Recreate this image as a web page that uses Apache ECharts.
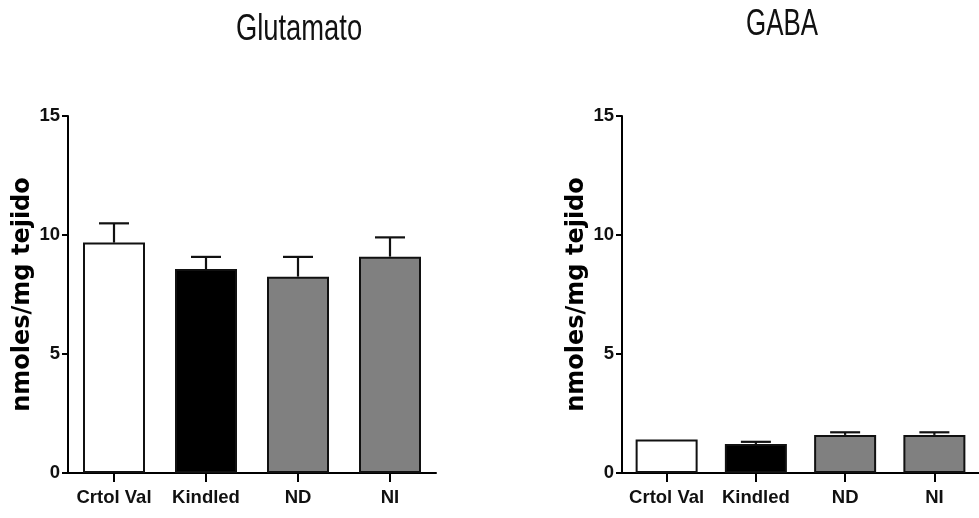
<!DOCTYPE html>
<html><head><meta charset="utf-8">
<script src="https://cdn.jsdelivr.net/npm/echarts@6/dist/echarts.min.js"></script>
<style>html,body{margin:0;padding:0;background:#fff}#c{width:979px;height:518px}</style>
</head><body><div id="c"></div>
<script>
var categories = ['Crtol Val', 'Kindled', 'ND', 'NI'];
var glutamatoMeans = [9.68, 8.57, 8.25, 9.09];
var glutamatoErrors = [0.81, 0.51, 0.83, 0.81];
var gabaMeans = [1.41, 1.22, 1.60, 1.60];
var gabaErrors = [0.0, 0.09, 0.11, 0.11];
var barColors = ['#ffffff', '#000000', '#808080', '#808080'];
var yTicks = [0, 5, 10, 15];
var titles = ['Glutamato', 'GABA'];
var yName = 'nmoles/mg tejido';

var sans = "'Liberation Sans', Arial, sans-serif";

function barData(means) {
  return means.map(function (v, i) {
    return { value: v, itemStyle: { color: barColors[i] } };
  });
}
function errData(means, errs) {
  return means.map(function (v, i) { return [i, v, errs[i]]; });
}
function renderErr(params, api) {
  var x = api.value(0), v = api.value(1), e = api.value(2);
  if (!e) return null;
  var p0 = api.coord([x, v]);
  var p1 = api.coord([x, v + e]);
  var hw = 15;
  var style = { stroke: '#111', lineWidth: 2.2, fill: null };
  return {
    type: 'group',
    children: [
      { type: 'line', shape: { x1: p0[0], y1: p0[1], x2: p1[0], y2: p1[1] }, style: style },
      { type: 'line', shape: { x1: p1[0] - hw, y1: p1[1], x2: p1[0] + hw, y2: p1[1] }, style: style }
    ]
  };
}

function xAxisCfg(idx) {
  return {
    type: 'category', gridIndex: idx, data: categories,
    axisLine: { lineStyle: { color: '#000', width: 2 } },
    axisTick: { show: true, alignWithLabel: true, length: 9, lineStyle: { color: '#000', width: 2 } },
    axisLabel: { interval: 0, color: '#111', fontFamily: sans, fontWeight: 'bold', fontSize: 18.5, margin: 15 }
  };
}
function yAxisCfg(idx) {
  return {
    type: 'value', gridIndex: idx, min: 0, max: 15, interval: 5,
    name: yName, nameLocation: 'middle', nameGap: 33,
    nameTextStyle: { color: '#000', fontFamily: "'DejaVu Sans', sans-serif", fontWeight: 'bold', fontSize: 24 },
    axisLine: { show: true, lineStyle: { color: '#000', width: 2 } },
    axisTick: { show: true, length: 6, lineStyle: { color: '#000', width: 2 } },
    splitLine: { show: false },
    axisLabel: { color: '#111', fontFamily: sans, fontWeight: 'bold', fontSize: 18.5, margin: 8,
      formatter: function (v) { return yTicks.indexOf(v) >= 0 ? String(v) : ''; } }
  };
}

var chart = echarts.init(document.getElementById('c'));
chart.setOption({
  animation: false,
  backgroundColor: '#fff',
  graphic: [
    { type: 'text', x: 299, y: 30, scaleX: 0.76,
      style: { text: titles[0], x: 0, y: 0, align: 'center', verticalAlign: 'middle',
        font: 'normal 36px ' + sans, fill: '#111' } },
    { type: 'text', x: 782, y: 25, scaleX: 0.72,
      style: { text: titles[1], x: 0, y: 0, align: 'center', verticalAlign: 'middle',
        font: 'normal 36px ' + sans, fill: '#111' } }
  ],
  grid: [
    { left: 68, top: 116, width: 368, height: 357 },
    { left: 622, top: 116, width: 368, height: 357 }
  ],
  xAxis: [xAxisCfg(0), xAxisCfg(1)],
  yAxis: [yAxisCfg(0), yAxisCfg(1)],
  series: [
    { type: 'bar', xAxisIndex: 0, yAxisIndex: 0, data: barData(glutamatoMeans), barWidth: 62,
      itemStyle: { borderColor: '#111', borderWidth: 2 } },
    { type: 'custom', xAxisIndex: 0, yAxisIndex: 0, data: errData(glutamatoMeans, glutamatoErrors),
      renderItem: renderErr, z: 3 },
    { type: 'bar', xAxisIndex: 1, yAxisIndex: 1, data: barData(gabaMeans), barWidth: 62,
      itemStyle: { borderColor: '#111', borderWidth: 2 } },
    { type: 'custom', xAxisIndex: 1, yAxisIndex: 1, data: errData(gabaMeans, gabaErrors),
      renderItem: renderErr, z: 3 }
  ]
});
</script>
</body></html>
